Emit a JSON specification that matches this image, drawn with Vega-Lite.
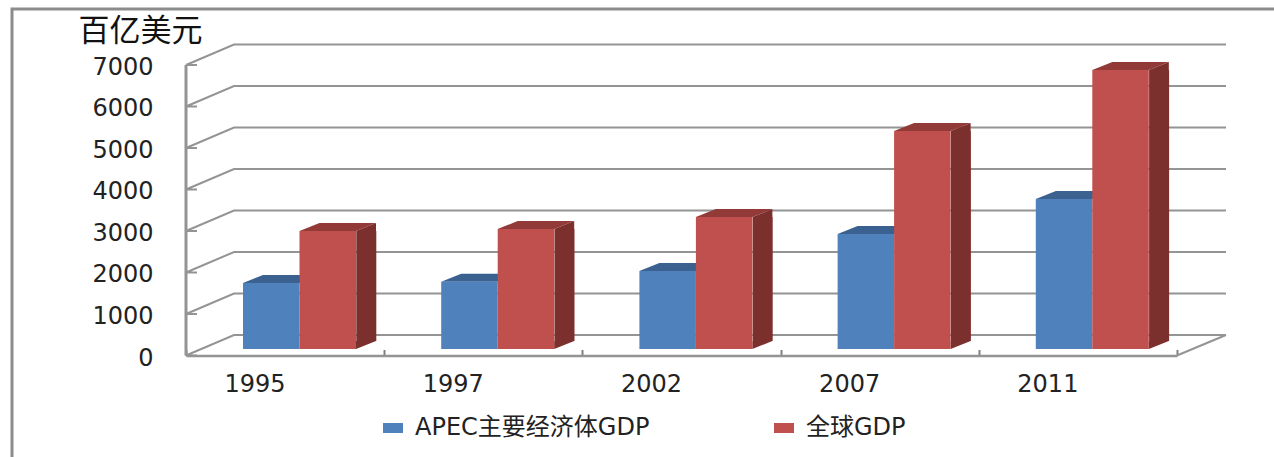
{
"$schema":"https://vega.github.io/schema/vega-lite/v6.json",
"width":1040,"height":311.5,
"autosize":{"type":"none"},
"padding":{"left":186,"top":44,"right":48,"bottom":101.5},
"background":"white",
"config":{"view":{"stroke":null},"font":"DejaVu Sans, Noto Sans CJK SC"},
"datasets":{
"rows":[
{"year":"1995","series":"APEC主要经济体GDP","gdp":1590},
{"year":"1995","series":"全球GDP","gdp":2843},
{"year":"1997","series":"APEC主要经济体GDP","gdp":1622},
{"year":"1997","series":"全球GDP","gdp":2891},
{"year":"2002","series":"APEC主要经济体GDP","gdp":1880},
{"year":"2002","series":"全球GDP","gdp":3180},
{"year":"2007","series":"APEC主要经济体GDP","gdp":2771},
{"year":"2007","series":"全球GDP","gdp":5253},
{"year":"2011","series":"APEC主要经济体GDP","gdp":3614},
{"year":"2011","series":"全球GDP","gdp":6723}],
"ticks":[{"v":0},{"v":1000},{"v":2000},{"v":3000},{"v":4000},{"v":5000},{"v":6000},{"v":7000}]
},
"layer":[
{"data":{"values":[{"v":0}]},
 "mark":{"type":"point","shape":"M-174,101.5V-346.5H1088","size":4,"filled":false,"opacity":1,"stroke":"#8c8c8c","strokeWidth":3},
 "encoding":{"x":{"value":0},"y":{"field":"v","type":"quantitative"}}},
{"data":{"name":"ticks"},
 "mark":{"type":"point","shape":"M0,0L48,-20.5L1040,-20.5M0,0H11","size":4,"filled":false,"opacity":1,"stroke":"#949494","strokeWidth":2},
 "encoding":{"x":{"value":0},"y":{"field":"v","type":"quantitative","scale":{"domain":[0,7506],"nice":false},
   "axis":{"values":[0,1000,2000,3000,4000,5000,6000,7000],"format":"d","grid":false,"domain":false,"ticks":false,"labelPadding":33,"labelOffset":2.5,"labelFontSize":24,"labelColor":"#222222",
   "title":"百亿美元","titleFont":"Noto Sans CJK SC","titleFontSize":31,"titleFontWeight":"normal","titleColor":"#111111","titleAngle":0,"titleAlign":"center","titleBaseline":"middle","titleX":-46,"titleY":-13}}}},
{"data":{"values":[{"v":0}]},
 "mark":{"type":"point","shape":"M991,0L1040,-20.5","size":4,"filled":false,"opacity":1,"stroke":"#949494","strokeWidth":2},
 "encoding":{"x":{"value":0},"y":{"field":"v","type":"quantitative"}}},
{"data":{"values":[{"a":0,"b":7000}]},
 "mark":{"type":"rule","stroke":"#949494","strokeWidth":3},
 "encoding":{"x":{"value":0},"y":{"field":"a","type":"quantitative"},"y2":{"field":"b"}}},
{"data":{"name":"rows"},
 "mark":{"type":"point","shape":"M-28.25,0L-8.25,-8L48.25,-8L28.25,0Z","size":4,"filled":true,"opacity":1,"yOffset":-6.5},
 "encoding":{"x":{"field":"year","type":"nominal","scale":{"range":[0,991],"paddingInner":0,"paddingOuter":0}},
  "xOffset":{"field":"series","type":"nominal","sort":["APEC主要经济体GDP","全球GDP"],"scale":{"paddingInner":0,"paddingOuter":0.754,"align":0.669}},
  "y":{"field":"gdp","type":"quantitative"},
  "color":{"field":"series","type":"nominal","legend":null,"scale":{"domain":["APEC主要经济体GDP","全球GDP"],"range":["#3a6190","#923a38"]}}}},
{"data":{"name":"rows"},"transform":[{"filter":"datum.series==='全球GDP'"}],
 "mark":{"type":"rule","strokeWidth":20,"xOffset":81.2,"yOffset":-6.5,"y2Offset":-14.5,"color":"#7b302e","opacity":1},
 "encoding":{"x":{"field":"year","type":"nominal"},
  "y":{"field":"gdp","type":"quantitative"},"y2":{"datum":0}}},
{"data":{"name":"rows"},"transform":[{"filter":"datum.series==='全球GDP'"}],
 "mark":{"type":"point","shape":"M28.25,0L48.25,-8L48.25,0Z","size":4,"filled":true,"opacity":1,"yOffset":-6.5,"color":"#7b302e"},
 "encoding":{"x":{"field":"year","type":"nominal"},
  "xOffset":{"field":"series","type":"nominal","sort":["APEC主要经济体GDP","全球GDP"]},
  "y":{"field":"gdp","type":"quantitative"}}},
{"data":{"name":"rows"},"transform":[{"filter":"datum.series==='全球GDP'"}],
 "mark":{"type":"point","shape":"M28.25,0L28.25,-8L48.25,-8Z","size":4,"filled":true,"opacity":1,"yOffset":-6.5,"color":"#7b302e"},
 "encoding":{"x":{"field":"year","type":"nominal"},
  "xOffset":{"field":"series","type":"nominal","sort":["APEC主要经济体GDP","全球GDP"]},
  "y":{"datum":0}}},
{"data":{"name":"rows"},
 "mark":{"type":"bar","yOffset":-6.5,"y2Offset":-6.5,"opacity":1},
 "encoding":{"x":{"field":"year","type":"nominal",
   "axis":{"title":null,"labelAngle":0,"labelFontSize":24,"labelColor":"#222222","labelPadding":35,"tickBand":"extent","tickSize":-6,"tickColor":"#808080","tickWidth":2,"domainColor":"#949494","domainWidth":2.5}},
  "xOffset":{"field":"series","type":"nominal","sort":["APEC主要经济体GDP","全球GDP"]},
  "y":{"field":"gdp","type":"quantitative"},"y2":{"datum":0},
  "color":{"field":"series","type":"nominal","scale":{"domain":["APEC主要经济体GDP","全球GDP"],"range":["#4f81bd","#c0504d"]},
   "legend":{"title":null,"orient":"none","legendX":195,"legendY":372,"direction":"horizontal","columns":2,"columnPadding":122,"symbolType":"M-1,-0.5H1V0.5H-1Z","symbolSize":400,"labelFontSize":24,"labelColor":"#222222","labelOffset":10,"labelLimit":400,"symbolStrokeWidth":0}}}}
],
"resolve":{"scale":{"color":"independent"}}
}
